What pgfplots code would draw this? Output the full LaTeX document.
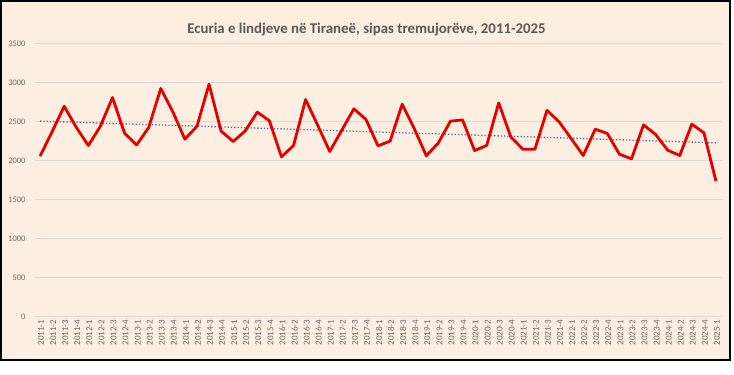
\documentclass[border=0pt]{standalone}
\usepackage{fontspec}
\setmainfont{Carlito}
\usepackage{pgfplots}
\pgfplotsset{compat=1.18}
\usepackage{pgfplotstable}
\definecolor{cream}{RGB}{252,239,225}
\definecolor{txtgray}{RGB}{89,89,89}
\definecolor{ticktxt}{RGB}{105,105,105}
\definecolor{gridgray}{RGB}{217,217,217}
\definecolor{linered}{RGB}{228,0,0}
\definecolor{trendblue}{RGB}{80,105,160}
\pgfplotstableread{
idx value
0 2056
1 2370
2 2695
3 2425
4 2192
5 2440
6 2808
7 2350
8 2200
9 2423
10 2923
11 2624
12 2273
13 2440
14 2978
15 2376
16 2244
17 2380
18 2620
19 2509
20 2047
21 2192
22 2782
23 2453
24 2115
25 2389
26 2662
27 2526
28 2188
29 2248
30 2722
31 2410
32 2060
33 2226
34 2504
35 2521
36 2128
37 2192
38 2739
39 2303
40 2145
41 2145
42 2643
43 2496
44 2282
45 2064
46 2402
47 2346
48 2081
49 2021
50 2457
51 2333
52 2132
53 2064
54 2466
55 2355
56 1735
}\births
\begin{document}
\begin{tikzpicture}
\fill[white] (0bp,0bp) rectangle (734bp,375bp);
\filldraw[fill=cream, draw=black, line width=2bp] (1bp,15bp) rectangle (730bp,374bp);
\node[font=\bfseries\fontsize{14.9}{16}\selectfont, text=txtgray] at (366.5bp,345.5bp) {Ecuria e lindjeve në Tiraneë, sipas tremujorëve, 2011-2025};
\begin{axis}[
  at={(35bp,58.5bp)}, anchor=south west,
  scale only axis, width=687bp, height=273bp,
  xmin=-0.42, xmax=56.5, ymin=0, ymax=3500,
  ytick={0,500,...,3500},
  xtick={0,...,56},
  xticklabels={2011-1,2011-2,2011-3,2011-4,2012-1,2012-2,2012-3,2012-4,2013-1,2013-2,2013-3,2013-4,2014-1,2014-2,2014-3,2014-4,2015-1,2015-2,2015-3,2015-4,2016-1,2016-2,2016-3,2016-4,2017-1,2017-2,2017-3,2017-4,2018-1,2018-2,2018-3,2018-4,2019-1,2019-2,2019-3,2019-4,2020-1,2020-2,2020-3,2020-4,2021-1,2021-2,2021-3,2021-4,2022-1,2022-2,2022-3,2022-4,2023-1,2023-2,2023-3,2023-4,2024-1,2024-2,2024-3,2024-4,2025-1},
  axis line style={draw=none},
  tick style={draw=none},
  ymajorgrids, grid style={gridgray, line width=0.8bp},
  /pgf/number format/assume math mode=true,
  /pgf/number format/1000 sep={},
  yticklabel style={font=\fontsize{8.5}{10}\selectfont, text=ticktxt, xshift=-6bp},
  xticklabel style={font=\fontsize{9}{10}\selectfont, text=ticktxt, rotate=90, anchor=east, yshift=-1bp},
  clip=false,
]
\addplot[trendblue, line width=1.3bp, dotted] coordinates {(0,2505) (56,2226)};
\addplot[linered, line width=2.8bp, line join=round] table[x=idx, y=value] {\births};
\end{axis}
\end{tikzpicture}
\end{document}
